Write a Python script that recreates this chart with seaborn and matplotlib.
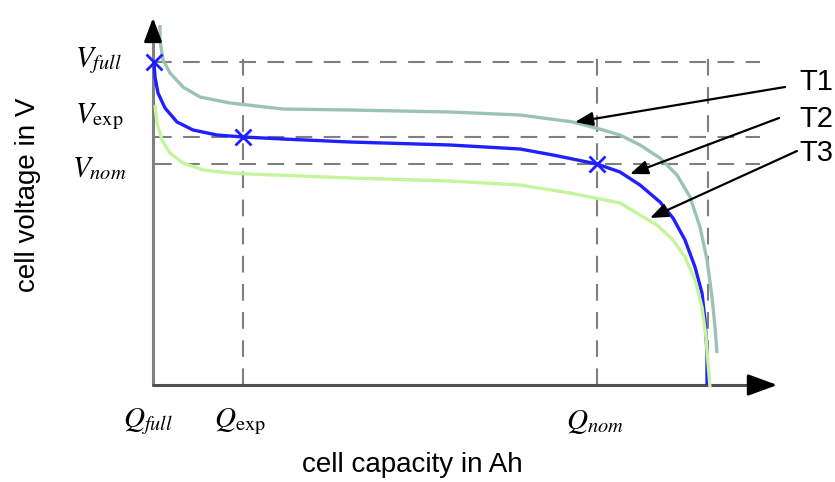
import numpy as np
import pandas as pd
import seaborn as sns
import matplotlib.pyplot as plt

sns.set_theme(style="white")
plt.rcParams['font.family'] = ['Liberation Sans', 'DejaVu Sans']
plt.rcParams['mathtext.fontset'] = 'stix'
plt.rcParams['text.color'] = 'black'

# discharge curves (capacity, voltage) in arbitrary chart units
t1_cap = [7, 7, 10, 17, 30, 47, 77, 130, 197, 297, 367, 420, 450, 467, 487, 507, 524, 537, 547, 554, 559, 562, 564]
t1_volt = [360, 345, 325, 312, 298, 288, 282, 276, 275, 273, 270, 263, 255, 250, 240, 227, 210, 188, 158, 125, 88, 58, 32]

t2_cap = [1, 2, 5, 12, 24, 40, 64, 90, 130, 197, 297, 367, 400, 444, 467, 487, 507, 520, 532, 542, 549, 552, 554, 554]
t2_volt = [323, 308, 292, 277, 263, 255, 250, 248, 246, 243, 240, 236, 230, 221, 213, 200, 183, 167, 145, 118, 92, 65, 32, 0]

t3_cap = [2, 4, 9, 17, 30, 50, 77, 97, 197, 297, 367, 417, 467, 487, 504, 520, 532, 542, 549, 553, 555, 557]
t3_volt = [280, 262, 245, 232, 222, 215, 212, 211, 207, 204, 200, 192, 182, 170, 160, 145, 128, 105, 78, 48, 22, -2]

curves = pd.concat([
    pd.DataFrame({'capacity': t1_cap, 'voltage': t1_volt, 'curve': 'T1'}),
    pd.DataFrame({'capacity': t2_cap, 'voltage': t2_volt, 'curve': 'T2'}),
    pd.DataFrame({'capacity': t3_cap, 'voltage': t3_volt, 'curve': 'T3'}),
])
palette = {'T1': '#9cc2b6', 'T2': '#1f1fff', 'T3': '#c4f59c'}

# characteristic points
q_points = [1, 90, 444]
v_points = [323, 248, 221]
q_end = 555
q_labels = [r'$Q_{full}$', r'$Q_{\mathrm{exp}}$', r'$Q_{nom}$']
v_labels = [r'$V_{full}$', r'$V_{\mathrm{exp}}$', r'$V_{nom}$']

fig = plt.figure(figsize=(8.35, 4.82), dpi=100)
ax = fig.add_axes([0, 0, 1, 1])
ax.set_xlim(-153, 682)
ax.set_ylim(-97, 385)
ax.axis('off')

dash = dict(color='#7f7f7f', lw=1.5, ls=(0, (8, 5.5)), zorder=1)
for v in v_points:
    ax.plot([2, 607], [v, v], **dash)
for q in [q_points[1], q_points[2], q_end]:
    ax.plot([q, q], [0, 328], **dash)

sns.lineplot(data=curves, x='capacity', y='voltage', hue='curve', palette=palette,
             sort=False, estimator=None, lw=2.4, legend=False, ax=ax, zorder=3,
             solid_joinstyle='round', solid_capstyle='butt')
ax.plot(q_points, v_points, ls='none', marker='x', ms=11, mew=2, color='#1f1fff', zorder=4)

# axes with arrow heads
ax.plot([0, 0], [0, 348], color='#808080', lw=2.2, zorder=2)
ax.plot([0, 605], [0, 0], color='#505050', lw=2.2, zorder=2)
ax.annotate('', xy=(0, 370), xytext=(0, 343),
            arrowprops=dict(arrowstyle='-|>,head_length=1.2,head_width=0.45', color='black', lw=2))
ax.annotate('', xy=(627, 0), xytext=(598, 0),
            arrowprops=dict(arrowstyle='-|>,head_length=1.5,head_width=0.55', color='black', lw=2))

for lab, ypos in zip(v_labels, [324, 268, 217]):
    ax.text(-54, ypos, lab, fontsize=21, ha='center', va='center')
for lab, xpos in zip(q_labels, [-5, 87, 442]):
    ax.text(xpos, -37, lab, fontsize=21, ha='center', va='center')

ax.text(-125, 190, 'cell voltage in V', fontsize=20, rotation=90, ha='center', va='center')
ax.text(259, -80, 'cell capacity in Ah', fontsize=20, ha='center', va='center')

tags = ['T1', 'T2', 'T3']
tag_pos = [(663, 303), (663, 266), (663, 232)]
arrow_tail = [(632, 298), (626, 267), (644, 234)]
arrow_tip = [(422, 263), (477, 211), (497, 167)]
for tag, tp, tail, tip in zip(tags, tag_pos, arrow_tail, arrow_tip):
    ax.text(tp[0], tp[1], tag, fontsize=21, ha='center', va='center')
    ax.annotate('', xy=tip, xytext=tail,
                arrowprops=dict(arrowstyle='-|>,head_length=0.9,head_width=0.35',
                                color='black', lw=1.6, shrinkA=0, shrinkB=0))

fig.savefig('out.png', dpi=100)
